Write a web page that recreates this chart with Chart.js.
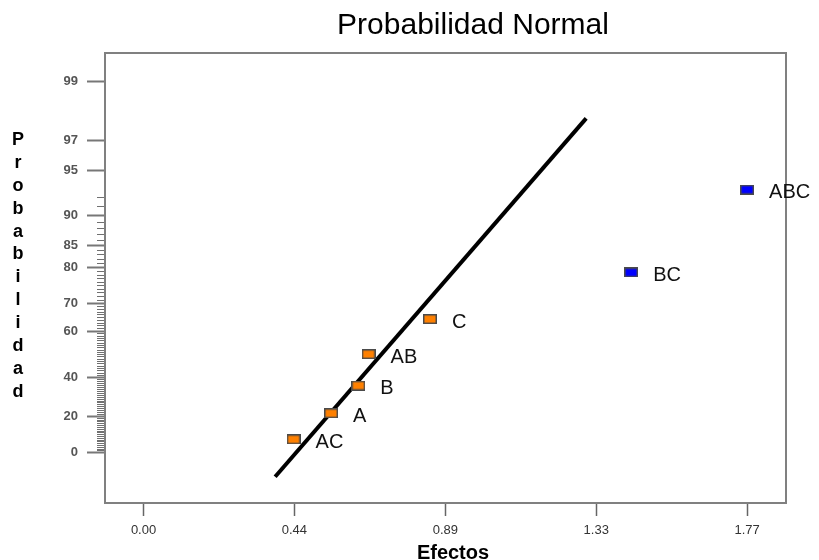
<!DOCTYPE html>
<html><head><meta charset="utf-8">
<script src="https://cdn.jsdelivr.net/npm/chart.js@4/dist/chart.umd.min.js"></script>
<style>html,body{margin:0;padding:0;background:#fff;overflow:hidden}</style>
</head><body>
<canvas id="c" width="819" height="560"></canvas>
<script>
// ---- data ----
const effectNames  = ['AC', 'A', 'B', 'AB', 'C', 'BC', 'ABC'];
const effectValues = [0.44, 0.55, 0.63, 0.66, 0.84, 1.43, 1.77];
const normalProb   = [7.14, 21.43, 35.71, 50.00, 64.29, 78.57, 92.86];
const significant  = [false, false, false, false, false, true, true];

const xTickValues = [0, 0.4425, 0.885, 1.3275, 1.77];
const xTickLabels = ['0.00', '0.44', '0.89', '1.33', '1.77'];

// probability axis: label -> position on the (non linear) probability paper
const probTickLabels = [0, 20, 40, 60, 70, 80, 85, 90, 95, 97, 99];
const probAxisUnits  = [0, 9.79, 20.24, 32.73, 40.21, 49.92, 55.80, 63.90, 76.09, 84.27, 100];

// reference line (x in effect units, y in probability-paper units)
const fitLineX = [0.386, 1.298];
const fitLineU = [-6.58, 90.12];

function probToU(p) {
  for (let i = 0; i < probTickLabels.length - 1; i++) {
    const a = probTickLabels[i], b = probTickLabels[i + 1];
    if (p >= a && p <= b) {
      return probAxisUnits[i] + (p - a) / (b - a) * (probAxisUnits[i + 1] - probAxisUnits[i]);
    }
  }
  return p < probTickLabels[0] ? probAxisUnits[0] : probAxisUnits[probAxisUnits.length - 1];
}

function makeMarker(fill) {
  const c = document.createElement('canvas');
  c.width = 14; c.height = 10;
  const g = c.getContext('2d');
  g.fillStyle = '#4a4a4a';
  g.fillRect(0, 0, 14, 10);
  g.fillStyle = fill;
  g.fillRect(1.5, 1.5, 11, 7);
  return c;
}
const orangeMarker = makeMarker('#FF8000');
const blueMarker = makeMarker('#0000FF');

const pts = effectNames.map((n, i) => ({x: effectValues[i], y: probToU(normalProb[i]), name: n, sig: significant[i]}));

const FONT = "'Liberation Sans', Arial, sans-serif";

const decorPlugin = {
  id: 'decor',
  afterDraw(chart) {
    const ctx = chart.ctx;
    const a = chart.chartArea;
    const ys = chart.scales.y, xs = chart.scales.x;
    ctx.save();
    // minor ticks on probability axis
    ctx.strokeStyle = '#707070';
    ctx.lineWidth = 1;
    for (let p = 1; p <= 92; p++) {
      if (probTickLabels.includes(p)) continue;
      const y = Math.round(ys.getPixelForValue(probToU(p))) + 0.5;
      ctx.beginPath();
      ctx.moveTo(a.left - 8, y);
      ctx.lineTo(a.left, y);
      ctx.stroke();
    }
    // frame
    ctx.strokeStyle = '#808080';
    ctx.lineWidth = 2;
    ctx.strokeRect(a.left, a.top, a.right - a.left, a.bottom - a.top);
    // point labels
    ctx.fillStyle = '#111';
    ctx.font = '20px ' + FONT;
    ctx.textBaseline = 'middle';
    ctx.textAlign = 'left';
    pts.forEach(p => {
      ctx.fillText(p.name, xs.getPixelForValue(p.x) + 22, ys.getPixelForValue(p.y) + 3);
    });
    // title
    ctx.textAlign = 'center';
    ctx.textBaseline = 'alphabetic';
    ctx.font = '30px ' + FONT;
    ctx.fillStyle = '#000';
    ctx.fillText('Probabilidad Normal', 473, 34);
    // x title
    ctx.font = 'bold 20px ' + FONT;
    ctx.textBaseline = 'middle';
    ctx.fillText('Efectos', 453, 553);
    // y title, stacked letters
    ctx.font = 'bold 18px ' + FONT;
    const word = 'Probabilidad';
    for (let i = 0; i < word.length; i++) {
      ctx.fillText(word[i], 18, 140 + i * 22.9);
    }
    ctx.restore();
  }
};

new Chart(document.getElementById('c'), {
  data: {
    datasets: [
      {
        type: 'line',
        data: fitLineX.map((x, i) => ({x: x, y: fitLineU[i]})),
        borderColor: '#000',
        borderWidth: 4,
        pointRadius: 0,
        fill: false,
        order: 2
      },
      {
        type: 'scatter',
        data: pts.filter(p => !p.sig),
        pointStyle: orangeMarker,
        pointRadius: 5,
        order: 1
      },
      {
        type: 'scatter',
        data: pts.filter(p => p.sig),
        pointStyle: blueMarker,
        pointRadius: 5,
        order: 1
      }
    ]
  },
  options: {
    responsive: false,
    animation: false,
    layout: {padding: {left: 0, top: 53, right: 33, bottom: 0}},
    plugins: {legend: {display: false}, tooltip: {enabled: false}, title: {display: false}},
    scales: {
      x: {
        type: 'linear',
        min: -0.113,
        max: 1.884,
        afterBuildTicks: s => { s.ticks = xTickValues.map(v => ({value: v})); },
        afterFit: s => { s.height = 57; },
        ticks: {
          autoSkip: false,
          maxRotation: 0,
          callback: (v, i) => xTickLabels[i],
          font: {family: FONT, size: 13},
          color: '#333',
          padding: 7
        },
        grid: {drawOnChartArea: false, drawTicks: true, tickLength: 13, tickColor: '#666', tickWidth: 1.5},
        border: {display: false}
      },
      y: {
        type: 'linear',
        min: -13.68,
        max: 107.75,
        afterBuildTicks: s => { s.ticks = probAxisUnits.map(v => ({value: v})); },
        afterFit: s => { s.width = 105; },
        ticks: {
          autoSkip: false,
          callback: (v, i) => String(probTickLabels[i]),
          font: {family: FONT, size: 13, weight: 'bold'},
          color: '#555',
          padding: 9
        },
        grid: {drawOnChartArea: false, drawTicks: true, tickLength: 18, tickColor: '#777', tickWidth: 2},
        border: {display: false}
      }
    }
  },
  plugins: [decorPlugin]
});
</script>
</body></html>
